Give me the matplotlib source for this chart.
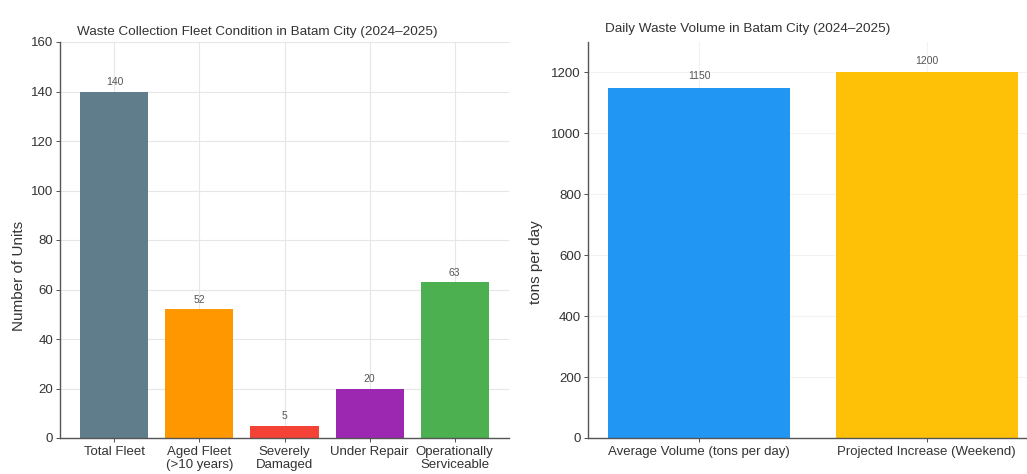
import matplotlib
matplotlib.use("Agg")
import matplotlib.pyplot as plt

plt.rcParams['font.family'] = ['Liberation Sans', 'DejaVu Sans']

fleet_categories = ["Total Fleet", "Aged Fleet\n(>10 years)", "Severely\nDamaged", "Under Repair", "Operationally\nServiceable"]
fleet_values = [140, 52, 5, 20, 63]
fleet_colors = ["#607D8B", "#FF9800", "#F44336", "#9C27B0", "#4CAF50"]

volume_categories = ["Average Volume (tons per day)", "Projected Increase (Weekend)"]
volume_values = [1150, 1200]
volume_colors = ["#2196F3", "#FFC107"]

W, H = 1027, 474
fig = plt.figure(figsize=(W / 100, H / 100), dpi=100)

def box(x0, x1, y_top, y_bot):
    return [x0 / W, (H - y_bot) / H, (x1 - x0) / W, (y_bot - y_top) / H]

ax1 = fig.add_axes(box(60, 509, 42, 438))
ax2 = fig.add_axes(box(588, 1038, 42, 438))

def style(ax):
    ax.set_axisbelow(True)
    ax.grid(True, color="#e6e6e6", linewidth=0.8)
    for s in ("top", "right"):
        ax.spines[s].set_visible(False)
    for s in ("left", "bottom"):
        ax.spines[s].set_color("#555555")
        ax.spines[s].set_linewidth(1.0)
    ax.tick_params(axis="both", colors="#333333", length=3, width=0.6)
    ax.tick_params(axis="x", labelsize=9.5, pad=3)
    ax.tick_params(axis="y", labelsize=9.5, pad=2)

# Left chart
bars1 = ax1.bar(range(len(fleet_values)), fleet_values, color=fleet_colors, width=0.8)
ax1.set_xticks(range(len(fleet_categories)))
ax1.set_xticklabels(fleet_categories, linespacing=1.1)
ax1.set_ylim(0, 160)
ax1.set_ylabel("Number of Units", fontsize=11, color="#333333")
ax1.yaxis.set_label_coords(-0.075, 0.41)
ax1.set_title("Waste Collection Fleet Condition in Batam City (2024–2025)", fontsize=9.7, x=0.44, pad=5, color="#333333")
style(ax1)
for b, v in zip(bars1, fleet_values):
    ax1.annotate(str(v), (b.get_x() + b.get_width() / 2, v), xytext=(0, 3),
                 textcoords="offset points", ha="center", va="bottom", fontsize=7.5, color="#555555")

# Right chart
bars2 = ax2.bar(range(len(volume_values)), volume_values, color=volume_colors, width=0.8)
ax2.set_xticks(range(len(volume_categories)))
ax2.set_xticklabels(volume_categories)
ax2.set_ylim(0, 1300)
ax2.set_yticks([0, 200, 400, 600, 800, 1000, 1200])
ax2.set_ylabel("tons per day", fontsize=11, color="#333333")
ax2.yaxis.set_label_coords(-0.1, 0.444)
ax2.set_title("Daily Waste Volume in Batam City (2024–2025)", fontsize=9.7, x=0.355, pad=7, color="#333333")
style(ax2)
ax2.grid(True, color="#f2f2f2", linewidth=0.8)
for b, v in zip(bars2, volume_values):
    ax2.annotate(str(v), (b.get_x() + b.get_width() / 2, v), xytext=(0, 5),
                 textcoords="offset points", ha="center", va="bottom", fontsize=7.5, color="#555555")

fig.savefig("out.png", dpi=100, facecolor="white")
